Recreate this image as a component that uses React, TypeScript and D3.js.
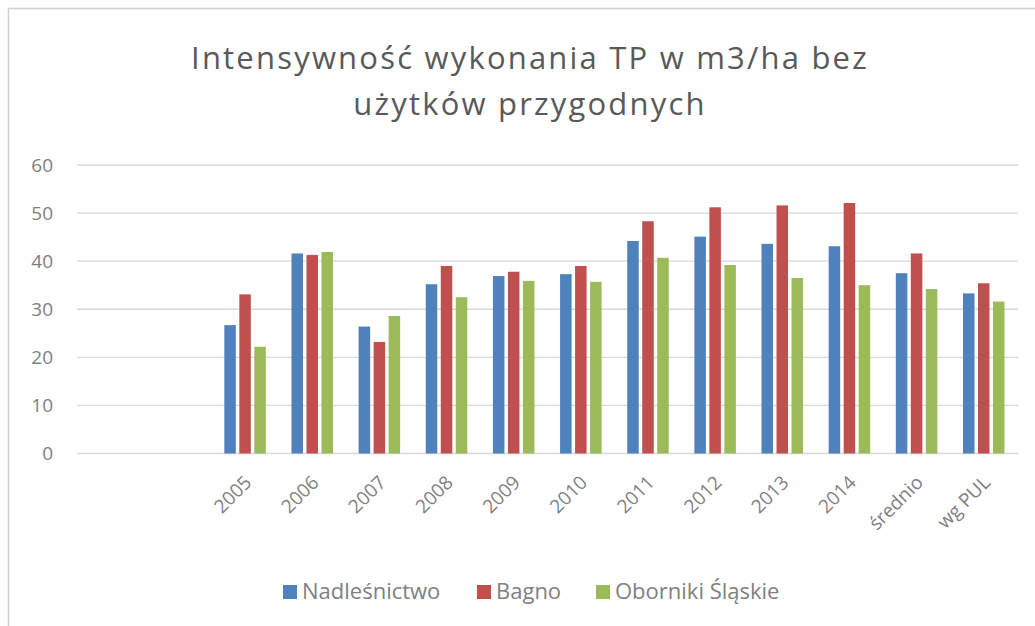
import React from "react";
import * as d3 from "d3";

const categories = ["", " ", "2005", "2006", "2007", "2008", "2009", "2010", "2011", "2012", "2013", "2014", "średnio", "wg PUL"];
const seriesNames = ["Nadleśnictwo", "Bagno", "Oborniki Śląskie"];
const nadlesnictwo = [null, null, 26.7, 41.6, 26.4, 35.2, 36.9, 37.3, 44.2, 45.1, 43.6, 43.1, 37.5, 33.3];
const bagno = [null, null, 33.1, 41.3, 23.2, 39.0, 37.8, 39.0, 48.3, 51.2, 51.6, 52.1, 41.6, 35.4];
const oborniki = [null, null, 22.2, 41.9, 28.6, 32.5, 35.9, 35.7, 40.7, 39.2, 36.5, 35.0, 34.2, 31.6];
const yTicks = [0, 10, 20, 30, 40, 50, 60];
const colors = ["#4F81BD", "#C0504D", "#9BBB59"];

const W = 1035;
const H = 626;
const FONT = "'Open Sans', 'Noto Sans', sans-serif";

export default function App() {
  const series = [nadlesnictwo, bagno, oborniki];
  const x0 = d3.scaleBand<string>().domain(categories).range([77.2, 1017.3]).padding(0);
  const groupW = 41.5;
  const x1 = d3.scaleBand<string>().domain(seriesNames).range([0, groupW]).paddingInner(0.233).paddingOuter(0);
  const y = d3.scaleLinear().domain([0, 60]).range([453.5, 165]);
  const plotLeft = 77;
  const plotRight = 1018;
  const legendX = [283, 477, 596];

  return (
    <svg width={W} height={H} style={{ position: "absolute", left: 0, top: 0, background: "#fff" }} fontFamily={FONT}>
      <rect x={0} y={0} width={W} height={H} fill="#fff" />
      <rect x={8.5} y={8.5} width={W + 20} height={H + 20} fill="none" stroke="#d0d0d0" strokeWidth={1.5} />
      <text x={530} y={69} textAnchor="middle" fontSize={31} letterSpacing={2.2} fill="#595959">
        Intensywność wykonania TP w m3/ha bez
      </text>
      <text x={530} y={115} textAnchor="middle" fontSize={31} letterSpacing={2.2} fill="#595959">
        użytków przygodnych
      </text>
      {yTicks.map((t) => (
        <g key={t}>
          <line x1={plotLeft} x2={plotRight} y1={y(t)} y2={y(t)} stroke="#d9d9d9" strokeWidth={1.3} />
          <text x={53} y={y(t)} dy="0.35em" textAnchor="end" fontSize={19} fill="#808080">
            {t}
          </text>
        </g>
      ))}
      {categories.map((c, i) => {
        const cx = (x0(c) as number) + x0.bandwidth() / 2;
        const gx = cx - groupW / 2;
        return (
          <g key={"c" + i}>
            {series.map((s, j) => {
              const v = s[i];
              if (v == null) return null;
              return (
                <rect
                  key={j}
                  x={gx + (x1(seriesNames[j]) as number)}
                  y={y(v)}
                  width={x1.bandwidth()}
                  height={y(0) - y(v)}
                  fill={colors[j]}
                />
              );
            })}
            {c.trim() !== "" && (
              <text
                transform={`translate(${cx + 3},${479}) rotate(-45)`}
                textAnchor="end"
                dy="0.35em"
                fontSize={19}
                fill="#808080"
              >
                {c}
              </text>
            )}
          </g>
        );
      })}
      {seriesNames.map((n, j) => {
        const lx = legendX[j];
        return (
          <g key={n}>
            <rect x={lx} y={585} width={14} height={14} fill={colors[j]} />
            <text x={lx + 19} y={599} fontSize={22} fill="#808080">
              {n}
            </text>
          </g>
        );
      })}
    </svg>
  );
}
